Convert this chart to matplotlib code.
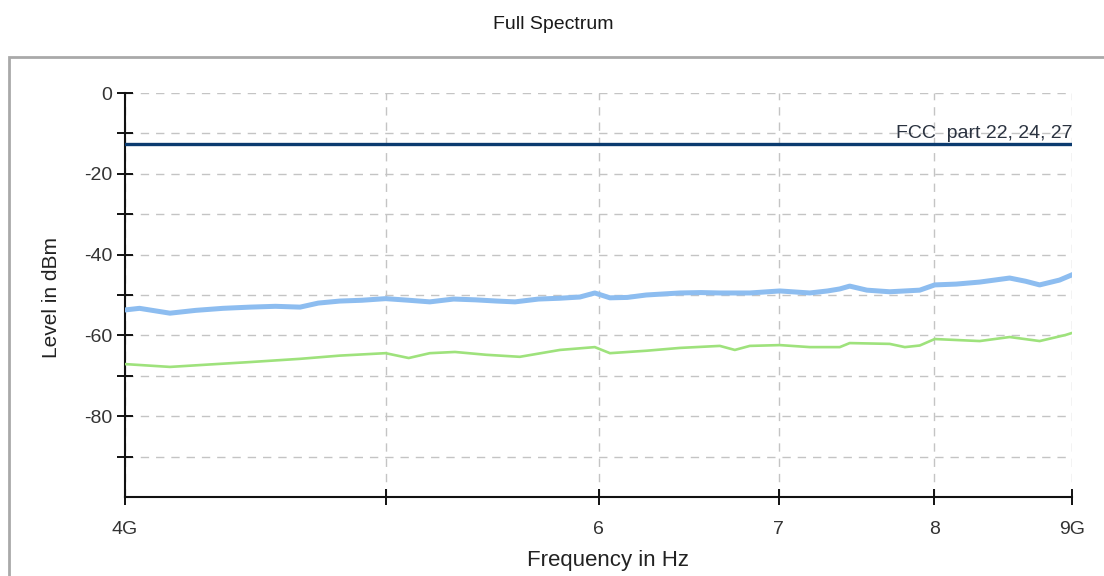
import matplotlib
matplotlib.use('Agg')
import matplotlib.pyplot as plt
from matplotlib.patches import Rectangle
from matplotlib.ticker import FixedLocator, FixedFormatter, NullLocator

# Trace data (frequency in GHz, level in dBm)
blue_freq = [4.000, 4.05, 4.157, 4.25, 4.35, 4.452, 4.55, 4.647, 4.72, 4.808,
             4.90, 5.00, 5.10, 5.193, 5.30, 5.40, 5.50, 5.586, 5.70, 5.805,
             5.905, 5.981, 6.059, 6.15, 6.25, 6.433, 6.55, 6.657, 6.830, 7.008,
             7.190, 7.30, 7.377, 7.440, 7.55, 7.699, 7.900, 8.002, 8.15, 8.316,
             8.532, 8.65, 8.754, 8.905, 9.000]
blue_level = [-53.7, -53.3, -54.5, -53.8, -53.3, -53.0, -52.8, -53.0, -52.0, -51.5,
              -51.3, -50.9, -51.3, -51.7, -51.0, -51.2, -51.5, -51.7, -51.0, -50.8,
              -50.5, -49.5, -50.7, -50.6, -50.0, -49.5, -49.4, -49.5, -49.5, -49.0,
              -49.5, -49.0, -48.5, -47.8, -48.8, -49.2, -48.8, -47.5, -47.3, -46.8,
              -45.8, -46.6, -47.5, -46.3, -45.0]

green_freq = [4.000, 4.157, 4.30, 4.452, 4.647, 4.808, 5.000, 5.10, 5.193, 5.306,
              5.45, 5.609, 5.805, 5.981, 6.059, 6.25, 6.433, 6.657, 6.743, 6.830,
              7.008, 7.190, 7.377, 7.440, 7.699, 7.80, 7.900, 8.002, 8.316, 8.532,
              8.754, 8.95, 9.000]
green_level = [-67.1, -67.8, -67.2, -66.6, -65.8, -65.0, -64.4, -65.6, -64.4, -64.1,
               -64.8, -65.3, -63.6, -62.9, -64.4, -63.8, -63.1, -62.6, -63.6, -62.6,
               -62.4, -62.9, -62.9, -61.9, -62.1, -62.9, -62.5, -60.9, -61.4, -60.4,
               -61.4, -59.9, -59.4]

# FCC limit line
limit_freq = [4.0, 9.0]
limit_level = [-12.7, -12.7]
limit_label = 'FCC  part 22, 24, 27'

x_ticks = [4, 5, 6, 7, 8, 9]
x_ticklabels = ['4G', '', '6', '7', '8', '9G']
y_major = [-80, -60, -40, -20, 0]
y_minor = [-90, -70, -50, -30, -10]

plt.rcParams['font.family'] = ['Liberation Sans', 'DejaVu Sans']
plt.rcParams['axes.unicode_minus'] = False

fig = plt.figure(figsize=(11.04, 5.76), dpi=100)
fig.patch.set_facecolor('white')

# light gray panel frame
fig.patches.append(Rectangle((9 / 1104, -0.02), 1.2, 1.02 - 57 / 576,
                             transform=fig.transFigure, fill=False,
                             edgecolor='#a9a9a9', linewidth=2))

fig.text(0.501, 0.958, 'Full Spectrum', ha='center', va='center',
         fontsize=14, color='#1a1a1a')

ax = fig.add_axes([125 / 1104, 1 - 497 / 576, 947 / 1104, 404 / 576])

ax.plot(blue_freq, blue_level, color='#8dbdf0', linewidth=3.6, zorder=3)
ax.plot(green_freq, green_level, color='#9ee27c', linewidth=1.9, zorder=3)
ax.plot(limit_freq, limit_level, color='#0b3b6f', linewidth=2.4, zorder=4)
ax.text(9.0, limit_level[0] + 0.6, limit_label, ha='right', va='bottom',
        fontsize=14, color='#2b3340')

ax.set_xscale('log')
ax.set_xlim(4, 9)
ax.set_ylim(-100, 0)
ax.xaxis.set_major_locator(FixedLocator(x_ticks))
ax.xaxis.set_major_formatter(FixedFormatter(x_ticklabels))
ax.xaxis.set_minor_locator(NullLocator())
ax.set_yticks(y_major)
ax.set_yticks(y_minor, minor=True)

ax.grid(True, which='major', axis='x', color='#c4c4c4', linestyle=(0, (6, 5)), linewidth=1)
ax.grid(True, which='both', axis='y', color='#c4c4c4', linestyle=(0, (6, 5)), linewidth=1)

for side in ['top', 'right']:
    ax.spines[side].set_visible(False)
for side in ['left', 'bottom']:
    ax.spines[side].set_linewidth(1.5)
    ax.spines[side].set_color('#111111')

ax.tick_params(axis='both', which='both', direction='inout', length=12, width=1.4,
               color='#111111', labelsize=14, labelcolor='#333333')
ax.tick_params(axis='x', pad=11)
ax.tick_params(axis='y', pad=3)

ax.set_xlabel('Frequency in Hz', fontsize=16, color='#222222')
ax.set_ylabel('Level in dBm', fontsize=15, color='#222222')
ax.xaxis.set_label_coords(0.51, -0.13)
ax.yaxis.set_label_coords(-0.068, 0.495)

fig.savefig('out.png', dpi=100)
